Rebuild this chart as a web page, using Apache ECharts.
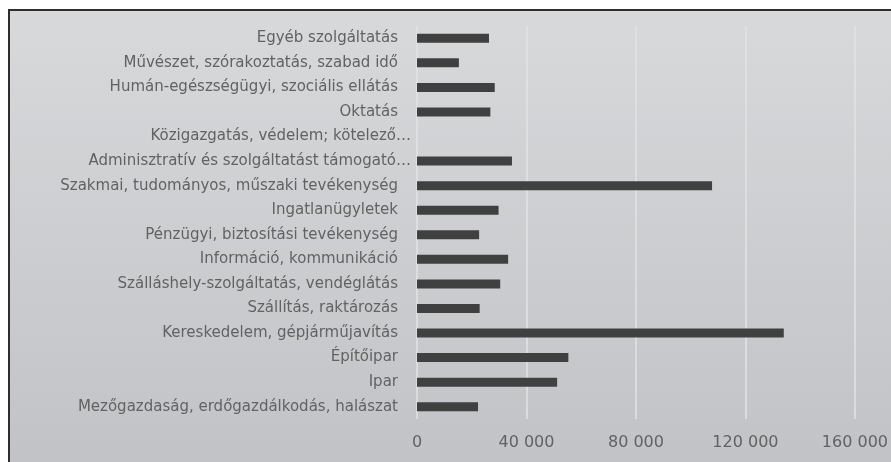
<!DOCTYPE html>
<html>
<head>
<meta charset="utf-8">
<script src="https://cdn.jsdelivr.net/npm/echarts@6/dist/echarts.min.js"></script>
<style>
html,body{margin:0;padding:0;background:#fff;}
#chart{width:891px;height:462px;}
</style>
</head>
<body>
<div id="chart"></div>
<script>
const categories = [
  'Egyéb szolgáltatás',
  'Művészet, szórakoztatás, szabad idő',
  'Humán-egészségügyi, szociális ellátás',
  'Oktatás',
  'Közigazgatás, védelem; kötelező…',
  'Adminisztratív és szolgáltatást támogató…',
  'Szakmai, tudományos, műszaki tevékenység',
  'Ingatlanügyletek',
  'Pénzügyi, biztosítási tevékenység',
  'Információ, kommunikáció',
  'Szálláshely-szolgáltatás, vendéglátás',
  'Szállítás, raktározás',
  'Kereskedelem, gépjárműjavítás',
  'Építőipar',
  'Ipar',
  'Mezőgazdaság, erdőgazdálkodás, halászat'
];
const values = [26300, 15300, 28400, 26800, 0, 34700, 107800, 29800, 22700, 33300, 30400, 22900, 134000, 55300, 51200, 22300];
const xMin = 0, xMax = 160000, xStep = 40000;

const chart = echarts.init(document.getElementById('chart'), null, {renderer:'canvas'});
const font = 'DejaVu Sans';
const catData = categories.map(c => c.endsWith('…')
  ? {value: c, textStyle: {padding: [0, -13, 0, 0]}}
  : c);
chart.setOption({
  animation: false,
  graphic: [{
    type: 'rect', z: -10, silent: true,
    shape: {x: 9, y: 10, width: 900, height: 470},
    style: {
      fill: new echarts.graphic.LinearGradient(0, 0, 0, 1, [
        {offset: 0, color: '#d8d9db'},
        {offset: 1, color: '#c1c2c5'}
      ]),
      stroke: '#2e2e2e', lineWidth: 2
    }
  }],
  grid: {left: 417, right: 34, top: 26, bottom: 43},
  xAxis: {
    type: 'value', min: xMin, max: xMax, interval: xStep,
    axisLine: {show: false}, axisTick: {show: false},
    splitLine: {show: true, lineStyle: {color: '#e2e3e5', width: 1.5}},
    axisLabel: {
      color: '#626262', fontFamily: font, fontSize: 16, margin: 16,
      formatter: v => String(v).replace(/\B(?=(\d{3})+(?!\d))/g, ' ')
    }
  },
  yAxis: {
    type: 'category', data: catData, inverse: true,
    axisLine: {show: false}, axisTick: {show: false},
    axisLabel: {color: '#626262', fontFamily: font, fontSize: 15, margin: 19}
  },
  series: [{
    type: 'bar', data: values, barWidth: 9,
    itemStyle: {color: '#404040'}
  }]
});
</script>
</body>
</html>
